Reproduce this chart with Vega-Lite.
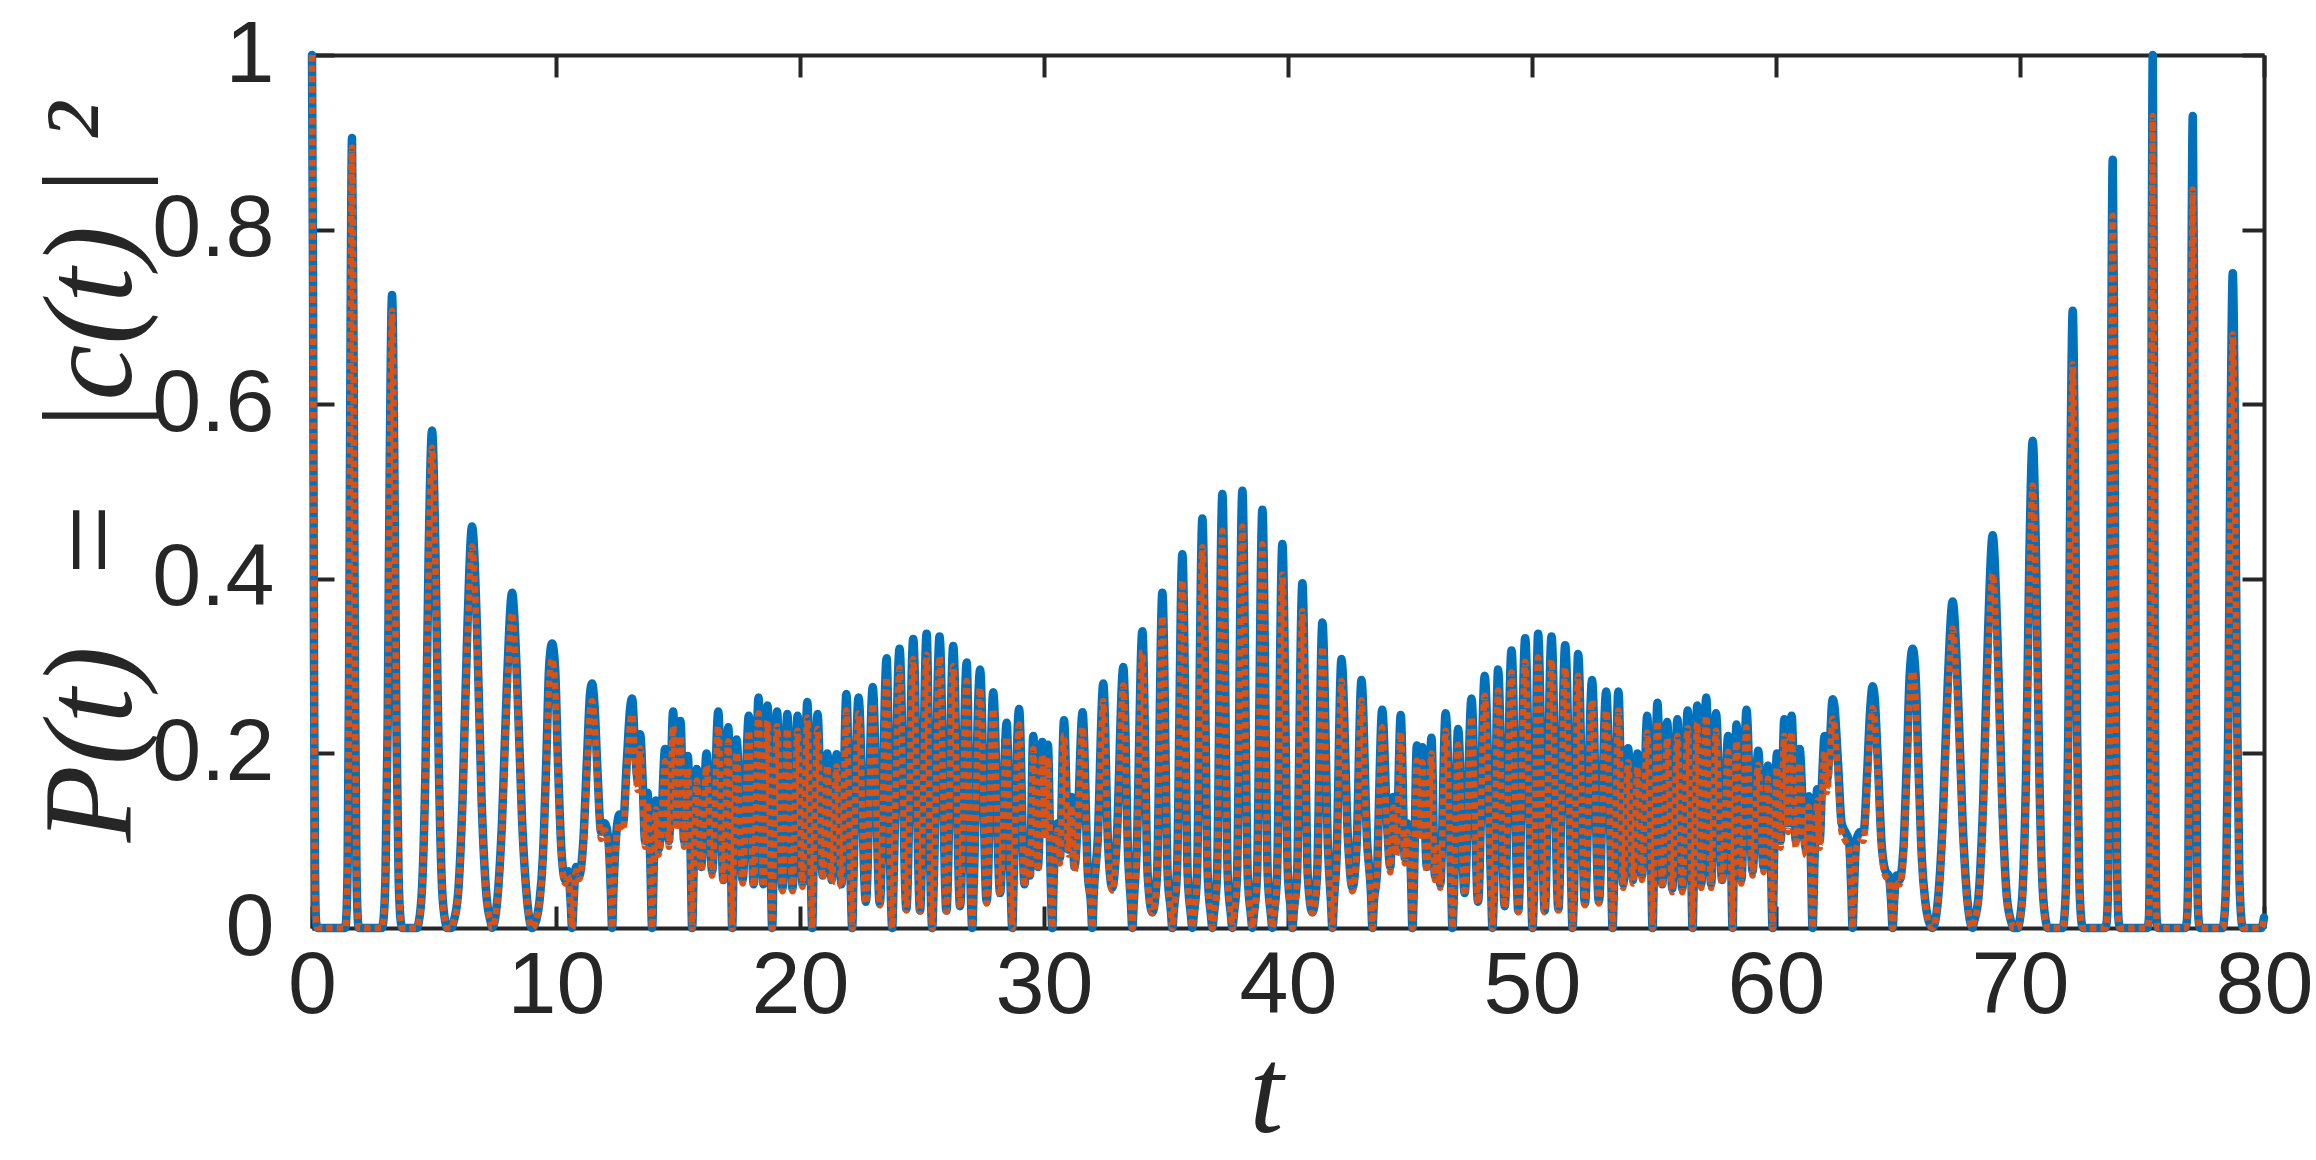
{
"$schema": "https://vega.github.io/schema/vega-lite/v6.json",
"width": 1952, "height": 873,
"autosize": {"type": "none"},
"padding": {"left": 312, "top": 55, "right": 52, "bottom": 232},
"background": "white",
"config": {"view": {"stroke": null}},
"data": {"values": [
{"t":0,"b":1,"o":1},{"t":0.04,"b":0.75,"o":0.74},{"t":0.08,"b":0.32,"o":0.316},{"t":0.12,"b":0.08,"o":0.079},{"t":0.16,"b":0.01,"o":0.01},{"t":0.22,"b":0,"o":0},
{"t":1.36,"b":0,"o":0},{"t":1.4,"b":0.009,"o":0.009},{"t":1.46,"b":0.072,"o":0.071},{"t":1.52,"b":0.29,"o":0.287},{"t":1.58,"b":0.68,"o":0.672},{"t":1.64,"b":0.905,"o":0.894},{"t":1.7,"b":0.68,"o":0.672},{"t":1.76,"b":0.29,"o":0.287},{"t":1.82,"b":0.072,"o":0.071},{"t":1.88,"b":0.009,"o":0.009},{"t":1.92,"b":0,"o":0},
{"t":2.86,"b":0,"o":0},{"t":2.92,"b":0.007,"o":0.007},{"t":3.01,"b":0.058,"o":0.057},{"t":3.1,"b":0.232,"o":0.226},{"t":3.19,"b":0.544,"o":0.53},{"t":3.28,"b":0.725,"o":0.707},{"t":3.37,"b":0.544,"o":0.53},{"t":3.46,"b":0.232,"o":0.226},{"t":3.55,"b":0.058,"o":0.057},{"t":3.64,"b":0.007,"o":0.007},{"t":3.7,"b":0,"o":0},
{"t":4.3,"b":0,"o":0},{"t":4.37,"b":0.006,"o":0.006},{"t":4.51,"b":0.046,"o":0.044},{"t":4.65,"b":0.182,"o":0.176},{"t":4.78,"b":0.428,"o":0.413},{"t":4.92,"b":0.57,"o":0.55},{"t":5.06,"b":0.428,"o":0.413},{"t":5.2,"b":0.182,"o":0.176},{"t":5.33,"b":0.046,"o":0.044},{"t":5.47,"b":0.006,"o":0.006},{"t":5.53,"b":0,"o":0},
{"t":5.72,"b":0,"o":0},{"t":5.78,"b":0.005,"o":0.005},{"t":5.98,"b":0.037,"o":0.035},{"t":6.17,"b":0.147,"o":0.14},{"t":6.37,"b":0.345,"o":0.328},{"t":6.56,"b":0.46,"o":0.437},{"t":6.76,"b":0.345,"o":0.328},{"t":6.95,"b":0.147,"o":0.14},{"t":7.15,"b":0.037,"o":0.035},{"t":7.34,"b":0.005,"o":0.005},{"t":7.38,"b":0,"o":0},
{"t":7.59,"b":0.031,"o":0.029},{"t":7.79,"b":0.123,"o":0.116},{"t":8.0,"b":0.288,"o":0.271},{"t":8.2,"b":0.384,"o":0.361},{"t":8.4,"b":0.288,"o":0.271},{"t":8.61,"b":0.123,"o":0.116},{"t":8.82,"b":0.031,"o":0.029},{"t":9.02,"b":0,"o":0},
{"t":9.18,"b":0.008,"o":0.008},{"t":9.32,"b":0.03,"o":0.028},{"t":9.46,"b":0.08,"o":0.075},{"t":9.6,"b":0.19,"o":0.178},{"t":9.72,"b":0.3,"o":0.281},{"t":9.84,"b":0.326,"o":0.308},{"t":9.96,"b":0.3,"o":0.281},{"t":10.08,"b":0.19,"o":0.178},{"t":10.22,"b":0.09,"o":0.084},{"t":10.38,"b":0.055,"o":0.051},{"t":10.5,"b":0.065,"o":0.06},{"t":10.6,"b":0.03,"o":0.028},{"t":10.66,"b":0,"o":0},
{"t":10.72,"b":0.03,"o":0.028},{"t":10.82,"b":0.07,"o":0.065},{"t":10.95,"b":0.06,"o":0.056},{"t":11.12,"b":0.1,"o":0.093},{"t":11.28,"b":0.2,"o":0.186},{"t":11.4,"b":0.27,"o":0.251},{"t":11.48,"b":0.28,"o":0.26},{"t":11.58,"b":0.255,"o":0.237},{"t":11.7,"b":0.18,"o":0.167},{"t":11.85,"b":0.11,"o":0.102},{"t":12.0,"b":0.12,"o":0.112},{"t":12.15,"b":0.1,"o":0.093},{"t":12.25,"b":0.04,"o":0.037},{"t":12.3,"b":0,"o":0},
{"t":12.35,"b":0.04,"o":0.037},{"t":12.45,"b":0.1,"o":0.093},{"t":12.6,"b":0.13,"o":0.121},{"t":12.75,"b":0.12,"o":0.112},{"t":12.9,"b":0.19,"o":0.177},{"t":13.05,"b":0.255,"o":0.237},{"t":13.12,"b":0.263,"o":0.245},{"t":13.25,"b":0.2,"o":0.186},{"t":13.35,"b":0.17,"o":0.158},{"t":13.45,"b":0.222,"o":0.206},{"t":13.55,"b":0.17,"o":0.158},{"t":13.65,"b":0.1,"o":0.093},{"t":13.75,"b":0.155,"o":0.144},{"t":13.86,"b":0.08,"o":0.074},{"t":13.94,"b":0,"o":0},
{"t":14.02,"b":0.09,"o":0.084},{"t":14.1,"b":0.146,"o":0.136},{"t":14.2,"b":0.09,"o":0.084},{"t":14.3,"b":0.11,"o":0.102},{"t":14.47,"b":0.205,"o":0.191},{"t":14.63,"b":0.1,"o":0.093},{"t":14.8,"b":0.248,"o":0.231},{"t":14.95,"b":0.12,"o":0.112},{"t":15.1,"b":0.237,"o":0.22},{"t":15.25,"b":0.1,"o":0.093},{"t":15.4,"b":0.197,"o":0.183},{"t":15.52,"b":0.08,"o":0.074},{"t":15.58,"b":0,"o":0},
{"t":15.65,"b":0.08,"o":0.074},{"t":15.77,"b":0.182,"o":0.169},{"t":15.95,"b":0.07,"o":0.065},{"t":16.17,"b":0.2,"o":0.186},{"t":16.4,"b":0.065,"o":0.06},{"t":16.65,"b":0.248,"o":0.231},{"t":16.86,"b":0.055,"o":0.051},{"t":17.06,"b":0.23,"o":0.214},{"t":17.17,"b":0.08,"o":0.074},{"t":17.22,"b":0,"o":0},
{"t":17.28,"b":0.08,"o":0.074},{"t":17.4,"b":0.216,"o":0.201},{"t":17.65,"b":0.055,"o":0.051},{"t":17.9,"b":0.243,"o":0.226},{"t":18.1,"b":0.05,"o":0.047},{"t":18.3,"b":0.264,"o":0.246},{"t":18.5,"b":0.05,"o":0.047},{"t":18.67,"b":0.255,"o":0.237},{"t":18.8,"b":0.07,"o":0.065},{"t":18.86,"b":0,"o":0},
{"t":18.92,"b":0.08,"o":0.074},{"t":19.06,"b":0.248,"o":0.231},{"t":19.28,"b":0.045,"o":0.042},{"t":19.48,"b":0.245,"o":0.228},{"t":19.69,"b":0.045,"o":0.042},{"t":19.9,"b":0.243,"o":0.226},{"t":20.1,"b":0.05,"o":0.047},{"t":20.3,"b":0.259,"o":0.241},{"t":20.44,"b":0.07,"o":0.065},{"t":20.5,"b":0,"o":0},
{"t":20.56,"b":0.08,"o":0.074},{"t":20.72,"b":0.245,"o":0.228},{"t":20.93,"b":0.06,"o":0.056},{"t":21.12,"b":0.2,"o":0.186},{"t":21.3,"b":0.055,"o":0.051},{"t":21.5,"b":0.199,"o":0.185},{"t":21.7,"b":0.05,"o":0.047},{"t":21.9,"b":0.268,"o":0.249},{"t":22.07,"b":0.06,"o":0.056},{"t":22.14,"b":0,"o":0},
{"t":22.2,"b":0.07,"o":0.065},{"t":22.4,"b":0.264,"o":0.246},{"t":22.7,"b":0.03,"o":0.028},{"t":22.98,"b":0.276,"o":0.257},{"t":23.27,"b":0.028,"o":0.026},{"t":23.55,"b":0.309,"o":0.287},{"t":23.72,"b":0.04,"o":0.037},{"t":23.78,"b":0,"o":0},
{"t":23.84,"b":0.06,"o":0.056},{"t":24.08,"b":0.32,"o":0.298},{"t":24.36,"b":0.022,"o":0.02},{"t":24.64,"b":0.331,"o":0.308},{"t":24.92,"b":0.02,"o":0.019},{"t":25.19,"b":0.337,"o":0.313},{"t":25.36,"b":0.04,"o":0.037},{"t":25.42,"b":0,"o":0},
{"t":25.48,"b":0.05,"o":0.047},{"t":25.72,"b":0.334,"o":0.311},{"t":26.0,"b":0.02,"o":0.019},{"t":26.28,"b":0.323,"o":0.3},{"t":26.56,"b":0.025,"o":0.023},{"t":26.83,"b":0.304,"o":0.283},{"t":27.0,"b":0.04,"o":0.037},{"t":27.06,"b":0,"o":0},
{"t":27.12,"b":0.05,"o":0.047},{"t":27.38,"b":0.296,"o":0.275},{"t":27.65,"b":0.03,"o":0.028},{"t":27.92,"b":0.27,"o":0.251},{"t":28.2,"b":0.04,"o":0.037},{"t":28.47,"b":0.235,"o":0.219},{"t":28.63,"b":0.05,"o":0.047},{"t":28.7,"b":0,"o":0},
{"t":28.76,"b":0.06,"o":0.056},{"t":28.98,"b":0.251,"o":0.233},{"t":29.2,"b":0.05,"o":0.047},{"t":29.32,"b":0.1,"o":0.093},{"t":29.42,"b":0.06,"o":0.056},{"t":29.56,"b":0.22,"o":0.205},{"t":29.75,"b":0.07,"o":0.065},{"t":29.93,"b":0.213,"o":0.198},{"t":30.05,"b":0.11,"o":0.102},{"t":30.16,"b":0.21,"o":0.195},{"t":30.28,"b":0.05,"o":0.047},{"t":30.34,"b":0,"o":0},
{"t":30.4,"b":0.06,"o":0.056},{"t":30.55,"b":0.12,"o":0.112},{"t":30.65,"b":0.08,"o":0.074},{"t":30.82,"b":0.238,"o":0.221},{"t":31.0,"b":0.09,"o":0.084},{"t":31.12,"b":0.15,"o":0.14},{"t":31.25,"b":0.07,"o":0.065},{"t":31.38,"b":0.12,"o":0.112},{"t":31.58,"b":0.247,"o":0.23},{"t":31.8,"b":0.06,"o":0.056},{"t":31.92,"b":0.03,"o":0.028},{"t":31.98,"b":0,"o":0},
{"t":32.04,"b":0.04,"o":0.037},{"t":32.2,"b":0.1,"o":0.093},{"t":32.43,"b":0.28,"o":0.26},{"t":32.62,"b":0.1,"o":0.093},{"t":32.8,"b":0.046,"o":0.043},{"t":32.98,"b":0.1,"o":0.093},{"t":33.25,"b":0.299,"o":0.278},{"t":33.45,"b":0.08,"o":0.074},{"t":33.56,"b":0.03,"o":0.028},{"t":33.62,"b":0,"o":0},
{"t":33.68,"b":0.03,"o":0.028},{"t":33.8,"b":0.09,"o":0.084},{"t":34.03,"b":0.34,"o":0.316},{"t":34.25,"b":0.06,"o":0.056},{"t":34.44,"b":0.018,"o":0.017},{"t":34.63,"b":0.06,"o":0.056},{"t":34.85,"b":0.384,"o":0.357},{"t":35.07,"b":0.06,"o":0.056},{"t":35.2,"b":0.02,"o":0.019},{"t":35.26,"b":0,"o":0},
{"t":35.32,"b":0.02,"o":0.019},{"t":35.45,"b":0.065,"o":0.06},{"t":35.67,"b":0.428,"o":0.398},{"t":35.89,"b":0.06,"o":0.056},{"t":36.02,"b":0.015,"o":0.014},{"t":36.08,"b":0,"o":0},
{"t":36.14,"b":0.015,"o":0.014},{"t":36.27,"b":0.06,"o":0.056},{"t":36.49,"b":0.469,"o":0.436},{"t":36.71,"b":0.06,"o":0.056},{"t":36.84,"b":0.015,"o":0.014},{"t":36.9,"b":0,"o":0},
{"t":36.96,"b":0.015,"o":0.014},{"t":37.09,"b":0.06,"o":0.056},{"t":37.31,"b":0.497,"o":0.455},{"t":37.53,"b":0.06,"o":0.056},{"t":37.66,"b":0.015,"o":0.014},{"t":37.72,"b":0,"o":0},
{"t":37.78,"b":0.015,"o":0.014},{"t":37.91,"b":0.06,"o":0.055},{"t":38.13,"b":0.501,"o":0.46},{"t":38.35,"b":0.06,"o":0.055},{"t":38.48,"b":0.015,"o":0.014},{"t":38.54,"b":0,"o":0},
{"t":38.6,"b":0.015,"o":0.014},{"t":38.73,"b":0.06,"o":0.055},{"t":38.95,"b":0.479,"o":0.44},{"t":39.17,"b":0.06,"o":0.055},{"t":39.3,"b":0.015,"o":0.014},{"t":39.36,"b":0,"o":0},
{"t":39.42,"b":0.015,"o":0.014},{"t":39.55,"b":0.06,"o":0.055},{"t":39.77,"b":0.44,"o":0.405},{"t":39.99,"b":0.065,"o":0.06},{"t":40.12,"b":0.02,"o":0.018},{"t":40.18,"b":0,"o":0},
{"t":40.24,"b":0.02,"o":0.018},{"t":40.37,"b":0.06,"o":0.055},{"t":40.59,"b":0.395,"o":0.363},{"t":40.81,"b":0.06,"o":0.055},{"t":41.0,"b":0.018,"o":0.017},{"t":41.19,"b":0.06,"o":0.055},{"t":41.41,"b":0.35,"o":0.322},{"t":41.64,"b":0.09,"o":0.083},{"t":41.76,"b":0.03,"o":0.028},{"t":41.82,"b":0,"o":0},
{"t":41.88,"b":0.03,"o":0.028},{"t":41.99,"b":0.08,"o":0.074},{"t":42.19,"b":0.308,"o":0.283},{"t":42.46,"b":0.1,"o":0.092},{"t":42.64,"b":0.046,"o":0.042},{"t":42.82,"b":0.1,"o":0.092},{"t":43.01,"b":0.284,"o":0.261},{"t":43.24,"b":0.1,"o":0.092},{"t":43.4,"b":0.04,"o":0.037},{"t":43.46,"b":0,"o":0},
{"t":43.52,"b":0.03,"o":0.028},{"t":43.64,"b":0.06,"o":0.055},{"t":43.86,"b":0.25,"o":0.23},{"t":44.06,"b":0.12,"o":0.11},{"t":44.19,"b":0.07,"o":0.064},{"t":44.32,"b":0.15,"o":0.138},{"t":44.44,"b":0.09,"o":0.083},{"t":44.62,"b":0.244,"o":0.224},{"t":44.79,"b":0.08,"o":0.074},{"t":44.89,"b":0.12,"o":0.11},{"t":45.04,"b":0.06,"o":0.055},{"t":45.1,"b":0,"o":0},
{"t":45.16,"b":0.05,"o":0.046},{"t":45.28,"b":0.209,"o":0.192},{"t":45.39,"b":0.11,"o":0.101},{"t":45.51,"b":0.207,"o":0.19},{"t":45.69,"b":0.07,"o":0.064},{"t":45.88,"b":0.218,"o":0.2},{"t":46.02,"b":0.06,"o":0.055},{"t":46.12,"b":0.1,"o":0.092},{"t":46.24,"b":0.05,"o":0.046},{"t":46.46,"b":0.246,"o":0.226},{"t":46.68,"b":0.06,"o":0.055},{"t":46.74,"b":0,"o":0},
{"t":46.81,"b":0.05,"o":0.046},{"t":46.97,"b":0.228,"o":0.21},{"t":47.24,"b":0.04,"o":0.037},{"t":47.52,"b":0.263,"o":0.242},{"t":47.79,"b":0.03,"o":0.028},{"t":48.06,"b":0.289,"o":0.266},{"t":48.32,"b":0.05,"o":0.046},{"t":48.38,"b":0,"o":0},
{"t":48.44,"b":0.04,"o":0.037},{"t":48.61,"b":0.296,"o":0.272},{"t":48.88,"b":0.025,"o":0.023},{"t":49.16,"b":0.318,"o":0.293},{"t":49.44,"b":0.02,"o":0.018},{"t":49.72,"b":0.332,"o":0.305},{"t":49.96,"b":0.05,"o":0.046},{"t":50.02,"b":0,"o":0},
{"t":50.08,"b":0.04,"o":0.037},{"t":50.25,"b":0.337,"o":0.31},{"t":50.52,"b":0.02,"o":0.018},{"t":50.8,"b":0.334,"o":0.307},{"t":51.08,"b":0.022,"o":0.02},{"t":51.36,"b":0.324,"o":0.298},{"t":51.6,"b":0.06,"o":0.055},{"t":51.66,"b":0,"o":0},
{"t":51.72,"b":0.04,"o":0.037},{"t":51.89,"b":0.314,"o":0.289},{"t":52.17,"b":0.028,"o":0.026},{"t":52.46,"b":0.284,"o":0.261},{"t":52.74,"b":0.03,"o":0.028},{"t":53.04,"b":0.271,"o":0.249},{"t":53.24,"b":0.07,"o":0.064},{"t":53.3,"b":0,"o":0},
{"t":53.37,"b":0.06,"o":0.055},{"t":53.54,"b":0.271,"o":0.249},{"t":53.74,"b":0.05,"o":0.046},{"t":53.94,"b":0.206,"o":0.19},{"t":54.14,"b":0.055,"o":0.051},{"t":54.32,"b":0.2,"o":0.184},{"t":54.51,"b":0.06,"o":0.055},{"t":54.72,"b":0.243,"o":0.224},{"t":54.88,"b":0.08,"o":0.074},{"t":54.94,"b":0,"o":0},
{"t":55.0,"b":0.07,"o":0.064},{"t":55.14,"b":0.258,"o":0.237},{"t":55.34,"b":0.05,"o":0.046},{"t":55.54,"b":0.236,"o":0.217},{"t":55.75,"b":0.045,"o":0.041},{"t":55.96,"b":0.239,"o":0.22},{"t":56.16,"b":0.045,"o":0.041},{"t":56.38,"b":0.249,"o":0.229},{"t":56.52,"b":0.08,"o":0.074},{"t":56.58,"b":0,"o":0},
{"t":56.64,"b":0.07,"o":0.064},{"t":56.77,"b":0.255,"o":0.235},{"t":56.94,"b":0.05,"o":0.046},{"t":57.14,"b":0.264,"o":0.243},{"t":57.34,"b":0.05,"o":0.046},{"t":57.54,"b":0.246,"o":0.226},{"t":57.79,"b":0.055,"o":0.051},{"t":58.04,"b":0.22,"o":0.202},{"t":58.16,"b":0.08,"o":0.074},{"t":58.22,"b":0,"o":0},
{"t":58.27,"b":0.08,"o":0.074},{"t":58.38,"b":0.233,"o":0.214},{"t":58.58,"b":0.055,"o":0.051},{"t":58.79,"b":0.25,"o":0.23},{"t":59.04,"b":0.065,"o":0.06},{"t":59.27,"b":0.203,"o":0.187},{"t":59.49,"b":0.07,"o":0.064},{"t":59.67,"b":0.186,"o":0.171},{"t":59.79,"b":0.08,"o":0.074},{"t":59.86,"b":0,"o":0},
{"t":59.92,"b":0.08,"o":0.074},{"t":60.04,"b":0.2,"o":0.184},{"t":60.19,"b":0.1,"o":0.092},{"t":60.34,"b":0.239,"o":0.22},{"t":60.49,"b":0.12,"o":0.11},{"t":60.64,"b":0.243,"o":0.224},{"t":60.81,"b":0.1,"o":0.092},{"t":60.97,"b":0.205,"o":0.189},{"t":61.14,"b":0.11,"o":0.101},{"t":61.24,"b":0.09,"o":0.083},{"t":61.34,"b":0.151,"o":0.139},{"t":61.42,"b":0.09,"o":0.083},{"t":61.5,"b":0,"o":0},
{"t":61.58,"b":0.08,"o":0.074},{"t":61.69,"b":0.159,"o":0.146},{"t":61.79,"b":0.1,"o":0.092},{"t":61.89,"b":0.17,"o":0.156},{"t":61.99,"b":0.22,"o":0.202},{"t":62.09,"b":0.17,"o":0.156},{"t":62.19,"b":0.2,"o":0.184},{"t":62.32,"b":0.262,"o":0.24},{"t":62.39,"b":0.255,"o":0.234},{"t":62.54,"b":0.19,"o":0.174},{"t":62.69,"b":0.12,"o":0.11},{"t":62.84,"b":0.11,"o":0.1},{"t":62.99,"b":0.1,"o":0.091},{"t":63.09,"b":0.04,"o":0.036},{"t":63.14,"b":0,"o":0},
{"t":63.19,"b":0.04,"o":0.036},{"t":63.29,"b":0.1,"o":0.091},{"t":63.44,"b":0.11,"o":0.1},{"t":63.59,"b":0.11,"o":0.1},{"t":63.74,"b":0.18,"o":0.164},{"t":63.86,"b":0.25,"o":0.228},{"t":63.96,"b":0.277,"o":0.252},{"t":64.04,"b":0.265,"o":0.241},{"t":64.16,"b":0.2,"o":0.182},{"t":64.32,"b":0.1,"o":0.091},{"t":64.49,"b":0.065,"o":0.059},{"t":64.62,"b":0.06,"o":0.055},{"t":64.72,"b":0.03,"o":0.027},{"t":64.78,"b":0,"o":0},
{"t":64.84,"b":0.03,"o":0.027},{"t":64.94,"b":0.06,"o":0.055},{"t":65.06,"b":0.055,"o":0.05},{"t":65.22,"b":0.09,"o":0.082},{"t":65.36,"b":0.19,"o":0.173},{"t":65.48,"b":0.29,"o":0.264},{"t":65.6,"b":0.32,"o":0.294},{"t":65.72,"b":0.29,"o":0.264},{"t":65.84,"b":0.185,"o":0.168},{"t":65.98,"b":0.078,"o":0.071},{"t":66.12,"b":0.03,"o":0.027},{"t":66.26,"b":0.008,"o":0.007},
{"t":66.42,"b":0,"o":0},{"t":66.63,"b":0.03,"o":0.028},{"t":66.83,"b":0.12,"o":0.11},{"t":67.04,"b":0.281,"o":0.258},{"t":67.24,"b":0.374,"o":0.343},{"t":67.44,"b":0.281,"o":0.258},{"t":67.65,"b":0.12,"o":0.11},{"t":67.85,"b":0.03,"o":0.028},{"t":68.06,"b":0,"o":0},
{"t":68.1,"b":0.005,"o":0.005},{"t":68.3,"b":0.036,"o":0.032},{"t":68.49,"b":0.144,"o":0.13},{"t":68.69,"b":0.338,"o":0.305},{"t":68.88,"b":0.45,"o":0.406},{"t":69.07,"b":0.338,"o":0.305},{"t":69.27,"b":0.144,"o":0.13},{"t":69.46,"b":0.036,"o":0.032},{"t":69.66,"b":0.005,"o":0.005},{"t":69.72,"b":0,"o":0},
{"t":69.91,"b":0,"o":0},{"t":69.97,"b":0.006,"o":0.005},{"t":70.11,"b":0.045,"o":0.041},{"t":70.25,"b":0.179,"o":0.163},{"t":70.38,"b":0.419,"o":0.381},{"t":70.52,"b":0.558,"o":0.507},{"t":70.66,"b":0.419,"o":0.381},{"t":70.79,"b":0.179,"o":0.163},{"t":70.93,"b":0.045,"o":0.041},{"t":71.07,"b":0.006,"o":0.005},{"t":71.13,"b":0,"o":0},
{"t":71.74,"b":0,"o":0},{"t":71.8,"b":0.007,"o":0.006},{"t":71.89,"b":0.057,"o":0.052},{"t":71.98,"b":0.226,"o":0.207},{"t":72.07,"b":0.53,"o":0.484},{"t":72.16,"b":0.707,"o":0.646},{"t":72.25,"b":0.53,"o":0.484},{"t":72.34,"b":0.226,"o":0.207},{"t":72.43,"b":0.057,"o":0.052},{"t":72.52,"b":0.007,"o":0.006},{"t":72.58,"b":0,"o":0},
{"t":73.5,"b":0,"o":0},{"t":73.56,"b":0.009,"o":0.008},{"t":73.62,"b":0.07,"o":0.065},{"t":73.68,"b":0.282,"o":0.261},{"t":73.74,"b":0.66,"o":0.612},{"t":73.8,"b":0.88,"o":0.816},{"t":73.86,"b":0.66,"o":0.612},{"t":73.92,"b":0.282,"o":0.261},{"t":73.98,"b":0.07,"o":0.065},{"t":74.04,"b":0.009,"o":0.008},{"t":74.1,"b":0,"o":0},
{"t":75.22,"b":0,"o":0},{"t":75.28,"b":0.01,"o":0.009},{"t":75.32,"b":0.08,"o":0.074},{"t":75.36,"b":0.32,"o":0.298},{"t":75.4,"b":0.75,"o":0.698},{"t":75.44,"b":1,"o":0.93},{"t":75.48,"b":0.75,"o":0.698},{"t":75.52,"b":0.32,"o":0.298},{"t":75.56,"b":0.08,"o":0.074},{"t":75.6,"b":0.01,"o":0.009},{"t":75.66,"b":0,"o":0},
{"t":76.78,"b":0,"o":0},{"t":76.84,"b":0.009,"o":0.008},{"t":76.9,"b":0.074,"o":0.067},{"t":76.96,"b":0.298,"o":0.271},{"t":77.02,"b":0.698,"o":0.635},{"t":77.08,"b":0.93,"o":0.846},{"t":77.14,"b":0.698,"o":0.635},{"t":77.2,"b":0.298,"o":0.271},{"t":77.26,"b":0.074,"o":0.067},{"t":77.32,"b":0.009,"o":0.008},{"t":77.38,"b":0,"o":0},
{"t":78.3,"b":0,"o":0},{"t":78.36,"b":0.008,"o":0.007},{"t":78.45,"b":0.06,"o":0.054},{"t":78.54,"b":0.24,"o":0.218},{"t":78.63,"b":0.563,"o":0.51},{"t":78.72,"b":0.75,"o":0.68},{"t":78.81,"b":0.563,"o":0.51},{"t":78.9,"b":0.24,"o":0.218},{"t":78.99,"b":0.06,"o":0.054},{"t":79.08,"b":0.008,"o":0.007},{"t":79.14,"b":0,"o":0},
{"t":79.9,"b":0,"o":0},{"t":80,"b":0.012,"o":0.011}
]},
"layer": [
{"mark": {"type": "line", "color": "#0072BD", "strokeWidth": 8.5, "interpolate": "monotone", "strokeJoin": "round", "strokeCap": "round"},
 "encoding": {
  "x": {"field": "t", "type": "quantitative", "scale": {"domain": [0, 80], "nice": false, "zero": false},
        "axis": {"orient": "bottom", "values": [0,10,20,30,40,50,60,70,80], "format": "d", "grid": false,
                 "domainColor": "#262626", "domainWidth": 4, "tickColor": "#262626", "tickWidth": 4, "tickSize": -22,
                 "labelFont": "Liberation Sans", "labelFontSize": 88, "labelColor": "#262626", "labelPadding": 36,
                 "labelFlush": false, "labelOverlap": false,
                 "title": "t", "titleFont": "Liberation Serif", "titleFontStyle": "italic", "titleFontWeight": "normal",
                 "titleFontSize": 122, "titleColor": "#262626", "titleX": 954, "titleY": 229, "titleBaseline": "bottom", "titleAlign": "center"}},
  "y": {"field": "b", "type": "quantitative", "scale": {"domain": [0, 1], "nice": false},
        "axis": {"orient": "left", "values": [0,0.2,0.4,0.6,0.8,1], "format": "~g", "grid": false,
                 "domainColor": "#262626", "domainWidth": 4, "tickColor": "#262626", "tickWidth": 4, "tickSize": -22,
                 "labelFont": "Liberation Sans", "labelFontSize": 88, "labelColor": "#262626", "labelPadding": 60,
                 "labelFlush": false, "labelOverlap": false,
                 "title": "P(t) \u00a0= \u00a0|c(t)\u2009|\u2009²", "titleFont": "Liberation Serif", "titleFontStyle": "italic", "titleFontWeight": "normal",
                 "titleFontSize": 126, "titleColor": "#262626", "titleX": -220, "titleY": 417, "titleAngle": -90,
                 "titleBaseline": "middle", "titleAlign": "center"}}
 }},
{"mark": {"type": "line", "color": "#D95319", "strokeWidth": 6.5, "strokeDash": [6.5, 4], "interpolate": "monotone", "strokeCap": "butt"},
 "encoding": {
  "x": {"field": "t", "type": "quantitative",
        "axis": {"orient": "top", "values": [0,10,20,30,40,50,60,70,80], "labels": false, "title": null, "grid": false,
                 "domainColor": "#262626", "domainWidth": 4, "tickColor": "#262626", "tickWidth": 4, "tickSize": -22}},
  "y": {"field": "o", "type": "quantitative",
        "axis": {"orient": "right", "values": [0,0.2,0.4,0.6,0.8,1], "labels": false, "title": null, "grid": false,
                 "domainColor": "#262626", "domainWidth": 4, "tickColor": "#262626", "tickWidth": 4, "tickSize": -22}}
 }}
],
"resolve": {"axis": {"x": "independent", "y": "independent"}}
}
